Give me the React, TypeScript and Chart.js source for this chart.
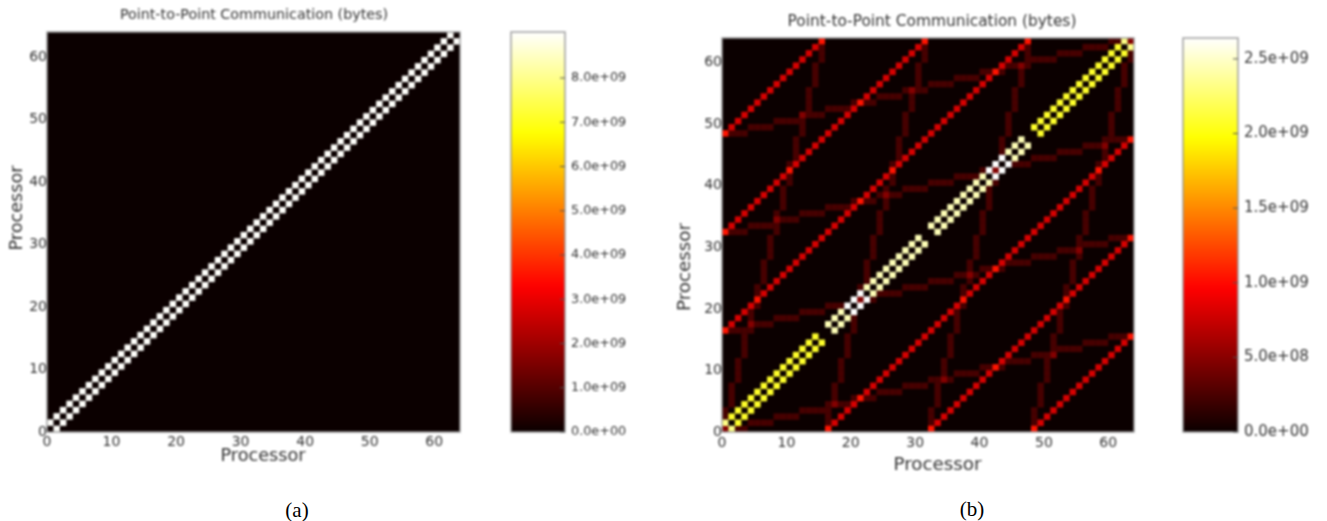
import React, { useEffect, useRef } from "react";
import { Chart, registerables } from "chart.js";

Chart.register(...registerables);

const titleText = "Point-to-Point Communication (bytes)";
const axisText = "Processor";
const heatTicks = [0, 10, 20, 30, 40, 50, 60];
const colorTicksA = [0, 1e9, 2e9, 3e9, 4e9, 5e9, 6e9, 7e9, 8e9];
const colorTicksB = [0, 5e8, 1e9, 1.5e9, 2e9, 2.5e9];
const vmaxA = 9.04e9;
const vmaxB = 2.64e9;

// Panel (a): neighbours of each processor (row index = y processor)
const nearColsA: number[][] = [
  [1],[0,2],[1,3],[2,4],[3,5],[4,6],[5,7],[6,8],[7,9],[8,10],[9,11],[10,12],[11,13],[12,14],[13,15],[14,16],
  [15,17],[16,18],[17,19],[18,20],[19,21],[20,22],[21,23],[22,24],[23,25],[24,26],[25,27],[26,28],[27,29],[28,30],[29,31],[30,32],
  [31,33],[32,34],[33,35],[34,36],[35,37],[36,38],[37,39],[38,40],[39,41],[40,42],[41,43],[42,44],[43,45],[44,46],[45,47],[46,48],
  [47,49],[48,50],[49,51],[50,52],[51,53],[52,54],[53,55],[54,56],[55,57],[56,58],[57,59],[58,60],[59,61],[60,62],[61,63],[62],
];
const nearValueA = 9.0e9;

// Panel (b): near-diagonal neighbours, stopping at each 16-processor block
const nearColsB: number[][] = [
  [1],[0,2],[1,3],[2,4],[3,5],[4,6],[5,7],[6,8],[7,9],[8,10],[9,11],[10,12],[11,13],[12,14],[13,15],[14],
  [17],[16,18],[17,19],[18,20],[19,21],[20,22],[21,23],[22,24],[23,25],[24,26],[25,27],[26,28],[27,29],[28,30],[29,31],[30],
  [33],[32,34],[33,35],[34,36],[35,37],[36,38],[37,39],[38,40],[39,41],[40,42],[41,43],[42,44],[43,45],[44,46],[45,47],[46],
  [49],[48,50],[49,51],[50,52],[51,53],[52,54],[53,55],[54,56],[55,57],[56,58],[57,59],[58,60],[59,61],[60,62],[61,63],[62],
];
const nearValueByBlockB = [2.08e9, 2.45e9, 2.45e9, 2.08e9];

// Panel (b): bright red diagonals
const brightColsB: number[][] = [
  [16,32,48],[17,33,49],[18,34,50],[19,35,51],[20,36,52],[21,37,53],[22,38,54],[23,39,55],
  [24,40,56],[25,41,57],[26,42,58],[27,43,59],[28,44,60],[29,45,61],[30,46,62],[31,47,63],
  [0,32,48],[1,33,49],[2,34,50],[3,35,51],[4,36,52],[5,37,53],[6,38,54],[7,39,55],
  [8,40,56],[9,41,57],[10,42,58],[11,43,59],[12,44,60],[13,45,61],[14,46,62],[15,47,63],
  [0,16,48],[1,17,49],[2,18,50],[3,19,51],[4,20,52],[5,21,53],[6,22,54],[7,23,55],
  [8,24,56],[9,25,57],[10,26,58],[11,27,59],[12,28,60],[13,29,61],[14,30,62],[15,31,63],
  [0,16,32],[1,17,33],[2,18,34],[3,19,35],[4,20,36],[5,21,37],[6,22,38],[7,23,39],
  [8,24,40],[9,25,41],[10,26,42],[11,27,43],[12,28,44],[13,29,45],[14,30,46],[15,31,47],
];
const brightValueB = 0.8e9;

// Panel (b): dim shallow dashes, first column of the run in each row
const dimRunStartB = [
  0,4,8,12,16,20,24,28,32,36,40,44,48,52,56,60,
  0,4,8,12,16,20,24,28,32,36,40,44,48,52,56,60,
  0,4,8,12,16,20,24,28,32,36,40,44,48,52,56,60,
  0,4,8,12,16,20,24,28,32,36,40,44,48,52,56,60,
];
const dimRunLengthB = 4;
// Panel (b): dim steep dashes
const dimColsB: number[][] = [
  [0,16,32,48],[0,16,32,48],[0,16,32,48],[0,16,32,48],[1,17,33,49],[1,17,33,49],[1,17,33,49],[1,17,33,49],
  [2,18,34,50],[2,18,34,50],[2,18,34,50],[2,18,34,50],[3,19,35,51],[3,19,35,51],[3,19,35,51],[3,19,35,51],
  [4,20,36,52],[4,20,36,52],[4,20,36,52],[4,20,36,52],[5,21,37,53],[5,21,37,53],[5,21,37,53],[5,21,37,53],
  [6,22,38,54],[6,22,38,54],[6,22,38,54],[6,22,38,54],[7,23,39,55],[7,23,39,55],[7,23,39,55],[7,23,39,55],
  [8,24,40,56],[8,24,40,56],[8,24,40,56],[8,24,40,56],[9,25,41,57],[9,25,41,57],[9,25,41,57],[9,25,41,57],
  [10,26,42,58],[10,26,42,58],[10,26,42,58],[10,26,42,58],[11,27,43,59],[11,27,43,59],[11,27,43,59],[11,27,43,59],
  [12,28,44,60],[12,28,44,60],[12,28,44,60],[12,28,44,60],[13,29,45,61],[13,29,45,61],[13,29,45,61],[13,29,45,61],
  [14,30,46,62],[14,30,46,62],[14,30,46,62],[14,30,46,62],[15,31,47,63],[15,31,47,63],[15,31,47,63],[15,31,47,63],
];
const dimValueB = 0.24e9;

const FONT = "'DejaVu Sans'";
const TEXT = "#333333";
const EDGE = "#9a9a9a";

function hot(t: number): string {
  const f = Math.max(0, Math.min(1, t));
  const r = Math.min(1, 0.0417 + (0.9583 * f) / 0.365);
  const g = f < 0.365 ? 0 : Math.min(1, (f - 0.365) / 0.381);
  const b = f < 0.746 ? 0 : (f - 0.746) / 0.254;
  return `rgb(${Math.round(r * 255)},${Math.round(g * 255)},${Math.round(b * 255)})`;
}

type Cell = { x: number; y: number; v: number };

function toCells(grid: Map<string, number>): Cell[] {
  const out: Cell[] = [];
  grid.forEach((v, k) => {
    const [c, r] = k.split(",").map(Number);
    out.push({ x: c + 0.5, y: r + 0.5, v });
  });
  return out.sort((p, q) => p.v - q.v);
}

function addTo(grid: Map<string, number>, c: number, r: number, v: number) {
  const k = `${c},${r}`;
  grid.set(k, (grid.get(k) || 0) + v);
}

function cellsA(): Cell[] {
  const g = new Map<string, number>();
  nearColsA.forEach((cols, r) => cols.forEach((c) => addTo(g, c, r, nearValueA)));
  return toCells(g);
}

function cellsB(): Cell[] {
  const g = new Map<string, number>();
  nearColsB.forEach((cols, r) => cols.forEach((c) => addTo(g, c, r, nearValueByBlockB[Math.floor(r / 16)])));
  brightColsB.forEach((cols, r) => cols.forEach((c) => addTo(g, c, r, brightValueB)));
  dimRunStartB.forEach((s, r) => {
    for (let i = 0; i < dimRunLengthB; i++) addTo(g, s + i, r, dimValueB);
  });
  dimColsB.forEach((cols, r) => cols.forEach((c) => addTo(g, c, r, dimValueB)));
  return toCells(g);
}

const frame = {
  id: "frame",
  beforeDatasetsDraw(chart: any, _a: any, o: any) {
    if (!o.fill) return;
    const { left, top, width, height } = chart.chartArea;
    chart.ctx.save();
    chart.ctx.fillStyle = o.fill;
    chart.ctx.fillRect(left, top, width, height);
    chart.ctx.restore();
  },
  afterDatasetsDraw(chart: any, _a: any, o: any) {
    const { left, top, width, height, right } = chart.chartArea;
    const ctx = chart.ctx;
    ctx.save();
    ctx.strokeStyle = EDGE;
    ctx.lineWidth = 1.4;
    ctx.strokeRect(left, top, width, height);
    if (o.ticks) {
      const y = chart.scales.y;
      ctx.strokeStyle = "#555";
      ctx.lineWidth = 1;
      y.ticks.forEach((t: any) => {
        const p = y.getPixelForValue(t.value);
        ctx.beginPath();
        ctx.moveTo(right - 5, p);
        ctx.lineTo(right, p);
        ctx.stroke();
      });
    }
    ctx.restore();
  },
};

const captions = {
  id: "captions",
  afterDraw(chart: any, _a: any, o: any) {
    if (!o.text) return;
    const ctx = chart.ctx;
    ctx.save();
    ctx.fillStyle = TEXT;
    ctx.font = `${o.size}px ${FONT}`;
    ctx.textAlign = "center";
    ctx.textBaseline = "middle";
    ctx.fillText(o.text, o.xLabel[0], o.xLabel[1]);
    ctx.translate(o.yLabel[0], o.yLabel[1]);
    ctx.rotate(-Math.PI / 2);
    ctx.fillText(o.text, 0, 0);
    ctx.restore();
  },
};

function heatConfig(p: any) {
  return {
    type: "scatter",
    data: {
      datasets: [
        {
          data: p.cells,
          parsing: false,
          pointStyle: "rect",
          pointBorderWidth: 0,
          pointHoverRadius: 0,
          pointRadius: (ctx: any) => {
            const s = ctx.chart.scales.x;
            return (s.getPixelForValue(1) - s.getPixelForValue(0)) / Math.SQRT2;
          },
          backgroundColor: p.cells.map((c: Cell) => hot(c.v / p.vmax)),
        },
      ],
    },
    options: {
      animation: false,
      responsive: false,
      events: [],
      layout: { padding: 0 },
      plugins: {
        legend: { display: false },
        tooltip: { enabled: false },
        title: {
          display: true,
          text: titleText,
          color: TEXT,
          font: { family: FONT, size: p.titleSize, weight: "normal", lineHeight: 1.2 },
          padding: p.titlePadding,
        },
        frame: { fill: hot(0) },
        captions: { text: axisText, size: p.labelSize, xLabel: p.xLabel, yLabel: p.yLabel },
      },
      scales: {
        x: {
          type: "linear",
          min: 0,
          max: 64,
          grid: { display: false, drawTicks: false },
          border: { display: false },
          ticks: { color: TEXT, padding: p.xTickPadding, maxRotation: 0, font: { family: FONT, size: p.tickSize } },
          afterBuildTicks: (s: any) => { s.ticks = heatTicks.map((value) => ({ value })); },
          afterFit: (s: any) => { s.height = p.bottomGutter; },
        },
        y: {
          type: "linear",
          min: 0,
          max: 64,
          grid: { display: false, drawTicks: false },
          border: { display: false },
          ticks: { color: TEXT, padding: 0, font: { family: FONT, size: p.tickSize } },
          afterBuildTicks: (s: any) => { s.ticks = heatTicks.map((value) => ({ value })); },
          afterFit: (s: any) => { s.width = p.leftGutter; },
        },
        gutter: {
          type: "linear",
          position: "right",
          display: true,
          grid: { display: false, drawTicks: false },
          border: { display: false },
          ticks: { display: false },
          afterFit: (s: any) => { s.width = p.rightGutter; },
        },
      },
    },
    plugins: [frame, captions],
  };
}

function barConfig(p: any) {
  return {
    type: "bar",
    data: {
      labels: [""],
      datasets: [
        {
          data: [p.vmax],
          barPercentage: 1,
          categoryPercentage: 1,
          borderWidth: 0,
          backgroundColor: (ctx: any) => {
            const area = ctx.chart.chartArea;
            if (!area) return "#000";
            const g = ctx.chart.ctx.createLinearGradient(0, area.bottom, 0, area.top);
            for (let i = 0; i <= 64; i++) g.addColorStop(i / 64, hot(i / 64));
            return g;
          },
        },
      ],
    },
    options: {
      animation: false,
      responsive: false,
      events: [],
      layout: { padding: p.padding },
      plugins: {
        legend: { display: false },
        tooltip: { enabled: false },
        frame: { ticks: true },
        captions: {},
      },
      scales: {
        x: { display: false },
        y: {
          position: "right",
          min: 0,
          max: p.vmax,
          grid: { display: false, drawTicks: false },
          border: { display: false },
          ticks: {
            color: TEXT,
            padding: 6,
            font: { family: FONT, size: p.tickSize },
            callback: (v: number) => Number(v).toExponential(1).replace(/e\+(\d)$/, "e+0$1"),
          },
          afterBuildTicks: (s: any) => { s.ticks = p.ticks.map((value: number) => ({ value })); },
          afterFit: (s: any) => { s.width = p.axisWidth; },
        },
      },
    },
    plugins: [frame],
  };
}

function Panel({ config, left, top, width, height }: any) {
  const ref = useRef<HTMLCanvasElement>(null);
  useEffect(() => {
    const chart = new Chart(ref.current as any, config());
    return () => chart.destroy();
  }, []);
  return (
    <canvas
      ref={ref}
      width={width}
      height={height}
      style={{ position: "absolute", left, top, width, height, filter: "blur(0.8px)" }}
    />
  );
}

const captionStyle: React.CSSProperties = {
  position: "absolute",
  font: "21px 'Liberation Serif'",
  color: "#000",
  transform: "translateX(-50%)",
  lineHeight: "24px",
};

export default function App() {
  return (
    <div style={{ position: "absolute", left: 0, top: 0, width: 1327, height: 521, overflow: "hidden", background: "#fff" }}>
      <Panel
        left={0} top={0} width={508} height={480}
        config={() =>
          heatConfig({
            cells: cellsA(), vmax: vmaxA, titleSize: 14.3, titlePadding: { top: 7, bottom: 7.84 },
            labelSize: 17.7, tickSize: 14, xTickPadding: 2, xLabel: [263, 456], yLabel: [17, 208],
            bottomGutter: 48, leftGutter: 47, rightGutter: 48,
          })
        }
      />
      <Panel
        left={500} top={0} width={140} height={450}
        config={() =>
          barConfig({
            vmax: vmaxA, ticks: colorTicksA, tickSize: 12.8,
            padding: { left: 11, top: 32, bottom: 18, right: 0 }, axisWidth: 75,
          })
        }
      />
      <Panel
        left={660} top={0} width={544} height={480}
        config={() =>
          heatConfig({
            cells: cellsB(), vmax: vmaxB, titleSize: 15.4, titlePadding: { top: 13.2, bottom: 6.3 },
            labelSize: 18.3, tickSize: 14, xTickPadding: 3, xLabel: [277.5, 465], yLabel: [25, 267],
            bottomGutter: 48, leftGutter: 62, rightGutter: 70,
          })
        }
      />
      <Panel
        left={1170} top={0} width={157} height={450}
        config={() =>
          barConfig({
            vmax: vmaxB, ticks: colorTicksB, tickSize: 15,
            padding: { left: 13, top: 38, bottom: 18, right: 0 }, axisWidth: 89,
          })
        }
      />
      <div style={{ ...captionStyle, left: 297, top: 498 }}>(a)</div>
      <div style={{ ...captionStyle, left: 972, top: 497 }}>(b)</div>
    </div>
  );
}
